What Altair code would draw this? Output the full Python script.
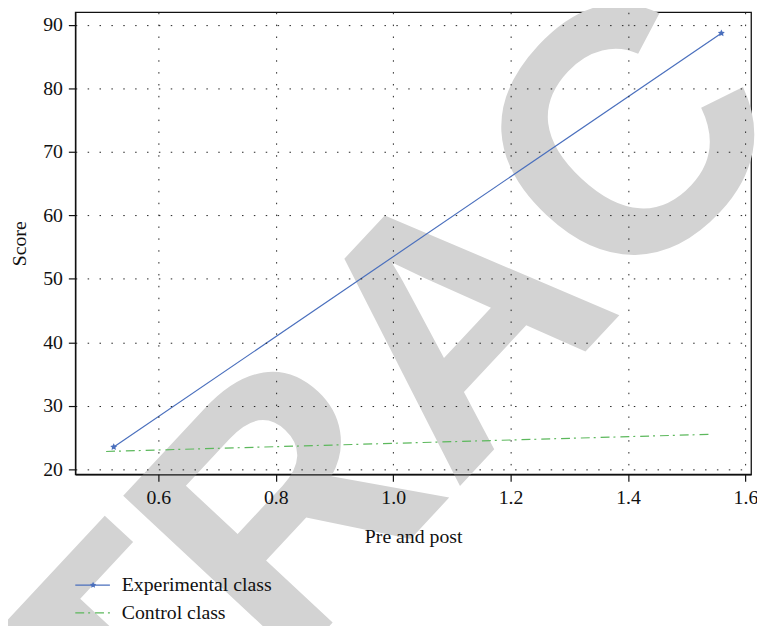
import altair as alt
import pandas as pd

# Data
stage_exp = [0.524, 1.559]
score_exp = [23.5, 88.7]
stage_ctrl = [0.511, 1.538]
score_ctrl = [22.8, 25.5]
series_names = ["Experimental class", "Control class"]
x_ticks = [0.6, 0.8, 1.0, 1.2, 1.4, 1.6]
y_ticks = [20, 30, 40, 50, 60, 70, 80, 90]
watermark = "RETRACTED"

BLUE = "#4a6fbd"
GREEN = "#5cb85c"
SERIF = "Liberation Serif"
STAR = "M0,-1L0.29,-0.4L0.95,-0.31L0.47,0.15L0.59,0.81L0,0.5L-0.59,0.81L-0.47,0.15L-0.95,-0.31L-0.29,-0.4Z"

exp_df = pd.DataFrame({"x": stage_exp, "y": score_exp})
ctrl_df = pd.DataFrame({"x": stage_ctrl, "y": score_ctrl})
wm_df = pd.DataFrame({"t": [watermark]})
leg_df = pd.DataFrame({"name": series_names})

xscale = alt.Scale(domain=[0.4585, 1.6096], nice=False, zero=False)
yscale = alt.Scale(domain=[19.2, 92.0], nice=False, zero=False)

xaxis = alt.Axis(values=x_ticks, format=".1f", title="Pre and post", grid=True, zindex=1)
yaxis = alt.Axis(values=y_ticks, format="d", title="Score", grid=True, zindex=1)

wm = alt.Chart(wm_df).mark_text(
    font="Liberation Sans", fontWeight="bold", fontSize=352, color="#d3d3d3",
    angle=313, align="center", baseline="middle"
).encode(text="t:N", x=alt.value(392), y=alt.value(320))

base_axes = alt.Chart(exp_df).mark_point(opacity=0).encode(
    x=alt.X("x:Q", scale=xscale, axis=xaxis),
    y=alt.Y("y:Q", scale=yscale, axis=yaxis),
)

exp_line = alt.Chart(exp_df).mark_line(color=BLUE, strokeWidth=1.2).encode(
    x=alt.X("x:Q", scale=xscale), y=alt.Y("y:Q", scale=yscale)
)
exp_pts = alt.Chart(exp_df).mark_point(
    shape=STAR, filled=True, color=BLUE, size=55, opacity=1
).encode(x=alt.X("x:Q", scale=xscale), y=alt.Y("y:Q", scale=yscale))

ctrl_line = alt.Chart(ctrl_df).mark_line(
    color=GREEN, strokeWidth=1.2, strokeDash=[9, 4, 2, 5]
).encode(x=alt.X("x:Q", scale=xscale), y=alt.Y("y:Q", scale=yscale))

# legend
l1 = alt.Chart(leg_df.iloc[[0]]).mark_rule(color=BLUE, strokeWidth=1.2).encode(
    x=alt.value(0), x2=alt.value(35), y=alt.value(579))
l1s = alt.Chart(leg_df.iloc[[0]]).mark_point(
    shape=STAR, filled=True, color=BLUE, size=45, opacity=1).encode(
    x=alt.value(18), y=alt.value(579))
l1t = alt.Chart(leg_df.iloc[[0]]).mark_text(
    font=SERIF, fontSize=20, align="left", baseline="middle", color="#111").encode(
    text="name:N", x=alt.value(47), y=alt.value(579))
l2 = alt.Chart(leg_df.iloc[[1]]).mark_rule(
    color=GREEN, strokeWidth=1.2, strokeDash=[9, 4, 2, 5]).encode(
    x=alt.value(0), x2=alt.value(35), y=alt.value(607))
l2t = alt.Chart(leg_df.iloc[[1]]).mark_text(
    font=SERIF, fontSize=20, align="left", baseline="middle", color="#111").encode(
    text="name:N", x=alt.value(47), y=alt.value(607))

chart = alt.layer(
    wm, base_axes, ctrl_line, exp_line, exp_pts, l1, l1s, l1t, l2, l2t
).properties(
    width=683, height=467,
    autosize=alt.AutoSizeParams(type="none"),
    padding={"left": 68, "top": 1, "right": 6, "bottom": 150},
).configure_view(
    stroke="#111", strokeWidth=1.3
).configure_axis(
    domainColor="#111", domainWidth=1.3,
    tickColor="#111", tickSize=7, tickWidth=1.2,
    labelFont=SERIF, labelFontSize=20, labelColor="#111",
    titleFont=SERIF, titleFontSize=20, titleFontWeight="normal", titleColor="#111",
    gridColor="#222", gridDash=[1.5, 10.5], gridWidth=1, gridOpacity=1,
).configure_axisX(
    labelPadding=6, titlePadding=20,
).configure_axisY(
    labelPadding=6, titlePadding=13,
)

chart.save("out.html", embed_options={"renderer": "svg", "actions": False})
